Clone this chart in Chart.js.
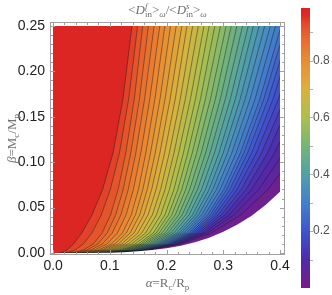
<!DOCTYPE html>
<html><head><meta charset="utf-8">
<script src="https://cdn.jsdelivr.net/npm/chart.js@4.4.1/dist/chart.umd.min.js"></script>
<style>html,body{margin:0;padding:0;background:#fff;}canvas{display:block;}</style>
</head><body>
<canvas id="c" width="332" height="295"></canvas>
<script>
// ---- data ----
const contourLevels = [0.95,0.925,0.9,0.875,0.85,0.825,0.8,0.775,0.75,0.725,0.7,0.675,0.65,0.625,0.6,0.575,0.55,0.525,0.5,0.475,0.45,0.425,0.4,0.375,0.35,0.325,0.3,0.275,0.25,0.225,0.2,0.175,0.15,0.125,0.1,0.075,0.05];
const betaRows = [0.25, 0.17, 0.11, 0.07, 0.042, 0.022, 0.01, 0.0035, 0.001];
// alpha position of each contour (same order as contourLevels) along each beta row
const alphaAtBeta025 = [0.139,0.149,0.158,0.168,0.178,0.188,0.197,0.207,0.217,0.227,0.236,0.246,0.256,0.266,0.275,0.285,0.295,0.305,0.314,0.324,0.334,0.344,0.353,0.363,0.373,0.383,0.392,0.402,0.410,0.419,0.428,0.439,0.451,0.466,0.483,0.504,0.533];
const alphaAtBeta017 = [0.1233,0.1333,0.1432,0.1523,0.1614,0.1706,0.1796,0.1886,0.1975,0.2064,0.2154,0.2243,0.2332,0.2422,0.2511,0.2599,0.2687,0.2775,0.2862,0.2950,0.3038,0.3126,0.3214,0.3300,0.3388,0.3475,0.3562,0.3648,0.3716,0.3793,0.3879,0.3975,0.4083,0.4208,0.4358,0.4545,0.4801];
const alphaAtBeta011 = [0.1056,0.1169,0.1281,0.1369,0.1458,0.1546,0.1634,0.1717,0.1800,0.1882,0.1965,0.2048,0.2130,0.2213,0.2296,0.2374,0.2452,0.2530,0.2609,0.2687,0.2765,0.2843,0.2922,0.2997,0.3073,0.3149,0.3224,0.3300,0.3360,0.3426,0.3499,0.3581,0.3673,0.3778,0.3904,0.4060,0.4272];
const alphaAtBeta007 = [0.0873,0.1009,0.1146,0.1235,0.1325,0.1415,0.1504,0.1582,0.1660,0.1738,0.1817,0.1895,0.1973,0.2051,0.2129,0.2199,0.2268,0.2338,0.2407,0.2477,0.2546,0.2616,0.2685,0.2750,0.2814,0.2879,0.2943,0.3008,0.3060,0.3115,0.3176,0.3242,0.3317,0.3401,0.3501,0.3624,0.3788];
const alphaAtBeta0042 = [0.0686,0.0849,0.1013,0.1104,0.1195,0.1287,0.1378,0.1452,0.1526,0.1600,0.1674,0.1749,0.1822,0.1897,0.1971,0.2032,0.2092,0.2153,0.2214,0.2275,0.2336,0.2396,0.2457,0.2510,0.2564,0.2617,0.2670,0.2723,0.2768,0.2813,0.2860,0.2911,0.2967,0.3030,0.3104,0.3192,0.3307];
const alphaAtBeta0022 = [0.0505,0.0684,0.0864,0.0954,0.1043,0.1133,0.1222,0.1290,0.1358,0.1426,0.1494,0.1562,0.1630,0.1698,0.1766,0.1817,0.1869,0.1920,0.1972,0.2023,0.2074,0.2125,0.2177,0.2219,0.2260,0.2302,0.2344,0.2386,0.2423,0.2456,0.2491,0.2528,0.2567,0.2610,0.2658,0.2714,0.2784];
const alphaAtBeta001 = [0.0360,0.0534,0.0708,0.0789,0.0870,0.0951,0.1031,0.1090,0.1149,0.1208,0.1267,0.1325,0.1384,0.1443,0.1502,0.1544,0.1585,0.1627,0.1668,0.1710,0.1752,0.1794,0.1835,0.1867,0.1899,0.1931,0.1963,0.1995,0.2025,0.2049,0.2073,0.2098,0.2125,0.2153,0.2183,0.2216,0.2255];
const alphaAtBeta00035 = [0.0248,0.0393,0.0538,0.0603,0.0668,0.0733,0.0798,0.0845,0.0891,0.0937,0.0983,0.1029,0.1075,0.1122,0.1168,0.1199,0.1231,0.1262,0.1294,0.1325,0.1357,0.1388,0.1420,0.1443,0.1466,0.1489,0.1512,0.1535,0.1558,0.1574,0.1591,0.1608,0.1625,0.1643,0.1661,0.1681,0.1701];
const alphaAtBeta0001 = [0.0170,0.0277,0.0385,0.0432,0.0480,0.0527,0.0575,0.0609,0.0642,0.0676,0.0709,0.0743,0.0776,0.0809,0.0843,0.0865,0.0888,0.0910,0.0933,0.0955,0.0978,0.1000,0.1023,0.1039,0.1055,0.1071,0.1087,0.1103,0.1120,0.1131,0.1142,0.1154,0.1165,0.1177,0.1189,0.1201,0.1213];
const convergeAlpha = 0.01; // where all contours meet beta = 0
// lower-right excluded (white) region boundary
const cutoffAlpha = [0,0.05,0.1,0.125,0.15,0.175,0.2,0.225,0.25,0.275,0.3,0.325,0.35,0.375,0.4];
const cutoffBeta  = [0,0.00003,0.0004,0.0009,0.0018,0.0032,0.0052,0.008,0.0118,0.0168,0.0233,0.0313,0.0411,0.0531,0.0676];
const alphaRange = [0, 0.4];
const betaRange = [0, 0.25];
const xTickValues = [0, 0.1, 0.2, 0.3, 0.4];
const yTickValues = [0, 0.05, 0.1, 0.15, 0.2, 0.25];
const colorbarRange = [0, 0.985];
const colorbarTicks = [0.2, 0.4, 0.6, 0.8];

// ---- styling ----
const rainbowStops = [
  [0.00,[120,28,134]],[0.10,[80,42,172]],[0.20,[62,84,206]],[0.30,[68,128,203]],
  [0.40,[80,160,168]],[0.50,[118,181,118]],[0.60,[172,191,77]],[0.70,[218,177,62]],
  [0.80,[233,140,51]],[0.88,[231,105,46]],[0.93,[227,75,42]],[0.96,[221,40,36]],[1.00,[218,32,34]]
];
function colorAt(v){
  if (v<=rainbowStops[0][0]) return 'rgb('+rainbowStops[0][1].join(',')+')';
  for (let i=1;i<rainbowStops.length;i++){
    const [v1,c1]=rainbowStops[i], [v0,c0]=rainbowStops[i-1];
    if (v<=v1){ const t=(v-v0)/(v1-v0); return 'rgb('+c0.map((c,j)=>Math.round(c+(c1[j]-c)*t)).join(',')+')'; }
  }
  return 'rgb('+rainbowStops[rainbowStops.length-1][1].join(',')+')';
}

const rowArrays = [alphaAtBeta025,alphaAtBeta017,alphaAtBeta011,alphaAtBeta007,alphaAtBeta0042,alphaAtBeta0022,alphaAtBeta001,alphaAtBeta00035,alphaAtBeta0001];
const OUT_L=-0.05, OUT_R=0.45, OUT_T=0.3, OUT_B=-0.05;

const datasets = [];
// white excluded region (top-most)
const maskPts = cutoffAlpha.map((a,i)=>({x:a,y:cutoffBeta[i]}));
maskPts.push({x:OUT_R,y:cutoffBeta[cutoffBeta.length-1]},{x:OUT_R,y:OUT_B},{x:0,y:OUT_B});
datasets.push({data:maskPts, showLine:true, fill:'shape', backgroundColor:'#ffffff', borderWidth:0, pointRadius:0});
// region above/left of each contour
contourLevels.forEach((lev,k)=>{
  const upper = k===0 ? colorbarRange[1] : contourLevels[k-1];
  const pts = [{x:OUT_L,y:OUT_T},{x:rowArrays[0][k],y:OUT_T}];
  betaRows.forEach((b,j)=>pts.push({x:rowArrays[j][k],y:b}));
  pts.push({x:convergeAlpha,y:0},{x:convergeAlpha,y:OUT_B},{x:OUT_L,y:OUT_B});
  datasets.push({data:pts, showLine:true, fill:'shape', backgroundColor:colorAt((lev+upper)/2),
    borderColor:'rgba(25,25,25,0.62)', borderWidth:0.7, pointRadius:0, tension:0});
});
// lowest band: whole domain
datasets.push({data:[{x:OUT_L,y:OUT_B},{x:OUT_R,y:OUT_B},{x:OUT_R,y:OUT_T},{x:OUT_L,y:OUT_T}],
  showLine:true, fill:'shape', backgroundColor:colorAt(contourLevels[contourLevels.length-1]/2), borderWidth:0, pointRadius:0});

function richWidth(ctx, parts){
  let w=0;
  for(const p of parts){
    if(p.stack){ let m=0; for(const s of p.stack){ctx.font=s.font; m=Math.max(m,ctx.measureText(s.t).width);} w+=m; }
    else { ctx.font=p.font; w+=ctx.measureText(p.t).width; }
  }
  return w;
}
function drawRich(ctx, parts, x, y){
  let cx = x - richWidth(ctx,parts)/2;
  ctx.textBaseline='alphabetic'; ctx.textAlign='left';
  for(const p of parts){
    if(p.stack){ let m=0; for(const s of p.stack){ctx.font=s.font; ctx.fillText(s.t,cx,y+(s.dy||0)); m=Math.max(m,ctx.measureText(s.t).width);} cx+=m; }
    else { ctx.font=p.font; ctx.fillText(p.t,cx,y+(p.dy||0)); cx+=ctx.measureText(p.t).width; }
  }
}
const SERIF='"Liberation Serif","DejaVu Serif",serif';
const N=(t)=>({t,font:'13px '+SERIF});
const I=(t)=>({t,font:'italic 13px '+SERIF});
const SUB=(t,it)=>({t,font:(it?'italic ':'')+'9px '+SERIF,dy:3});
const SUP=(t,it)=>({t,font:(it?'italic ':'')+'9px '+SERIF,dy:-5});

const decorPlugin = {
  id:'decor',
  beforeDatasetsDraw(chart){
    const {ctx,scales:{x,y}}=chart;
    const l=x.getPixelForValue(alphaRange[0]), r=x.getPixelForValue(alphaRange[1]);
    const t=y.getPixelForValue(betaRange[1]), b=y.getPixelForValue(betaRange[0]);
    ctx.save(); ctx.beginPath(); ctx.rect(l,t,r-l,b-t); ctx.clip();
  },
  afterDatasetsDraw(chart){ chart.ctx.restore(); },
  afterDraw(chart){
    const {ctx,chartArea:ca,scales:{x,y}}=chart;
    ctx.save();
    // frame
    ctx.strokeStyle='#a0a0a0'; ctx.lineWidth=1;
    ctx.strokeRect(ca.left+0.5,ca.top+0.5,ca.right-ca.left-1,ca.bottom-ca.top-1);
    // inward ticks
    ctx.beginPath();
    for(let i=0;i<=20;i++){
      const v=i*0.02, px=Math.round(x.getPixelForValue(v))+0.5, L=(i%5===0)?5:3;
      ctx.moveTo(px,ca.bottom); ctx.lineTo(px,ca.bottom-L);
      ctx.moveTo(px,ca.top); ctx.lineTo(px,ca.top+L);
    }
    for(let i=0;i<=25;i++){
      const v=i*0.01, py=Math.round(y.getPixelForValue(v))+0.5, L=(i%5===0)?5:3;
      ctx.moveTo(ca.left,py); ctx.lineTo(ca.left+L,py);
      ctx.moveTo(ca.right,py); ctx.lineTo(ca.right-L,py);
    }
    ctx.stroke();
    // titles
    ctx.fillStyle='#707070';
    drawRich(ctx,[N('<'),I('D'),{stack:[SUP('f',true),SUB('in')]},N('>'),SUB('ω',true),N('/<'),I('D'),{stack:[SUP('s',true),SUB('in')]},N('>'),SUB('ω',true)],
      (ca.left+ca.right)/2, 14);
    drawRich(ctx,[I('α'),N('=R'),SUB('c'),N('/R'),SUB('p')],(ca.left+ca.right)/2, 287);
    ctx.save(); ctx.translate(16,(ca.top+ca.bottom)/2); ctx.rotate(-Math.PI/2);
    drawRich(ctx,[I('β'),N('=M'),SUB('c'),N('/M'),SUB('p')],0,0);
    ctx.restore();
    // colorbar
    const bx=301, bw=9, bTop=8, bBot=288;
    const vy=v=>bBot-(v-colorbarRange[0])/(colorbarRange[1]-colorbarRange[0])*(bBot-bTop);
    const g=ctx.createLinearGradient(0,bBot,0,bTop);
    rainbowStops.forEach(([v,c])=>{ if(v<=colorbarRange[1]) g.addColorStop((v-colorbarRange[0])/(colorbarRange[1]-colorbarRange[0]),'rgb('+c.join(',')+')'); });
    g.addColorStop(1,colorAt(colorbarRange[1]));
    ctx.fillStyle=g; ctx.fillRect(bx,bTop,bw,bBot-bTop);
    ctx.strokeStyle='#b0b0b0'; ctx.lineWidth=1; ctx.beginPath();
    for(let i=1;i<=9;i++){ const py=Math.round(vy(i*0.1))+0.5; ctx.moveTo(bx+bw,py); ctx.lineTo(bx+bw+3,py); }
    ctx.stroke();
    ctx.fillStyle='#505050'; ctx.font='12px "Liberation Sans",Arial,sans-serif'; ctx.textAlign='left'; ctx.textBaseline='middle';
    colorbarTicks.forEach(v=>ctx.fillText(v.toFixed(1),bx+bw+3,vy(v)));
    ctx.restore();
  }
};

const TICKFONT={family:'"Liberation Sans",Arial,sans-serif',size:14};
new Chart(document.getElementById('c'),{
  type:'scatter',
  data:{datasets},
  options:{
    responsive:false, animation:false, events:[],
    layout:{padding:{left:0,right:47,top:22,bottom:0}},
    plugins:{legend:{display:false},tooltip:{enabled:false}},
    elements:{point:{radius:0},line:{tension:0}},
    scales:{
      x:{type:'linear',min:-0.0055,max:0.4088,
         afterBuildTicks:s=>{s.ticks=xTickValues.map(v=>({value:v}));},
         afterFit:s=>{s.height=40;},
         grid:{display:false,drawTicks:false},border:{display:false},
         ticks:{padding:3,font:TICKFONT,color:'#222',autoSkip:false,maxRotation:0,minRotation:0,callback:v=>Number(v).toFixed(1)}},
      y:{type:'linear',min:-0.0022,max:0.2544,
         afterBuildTicks:s=>{s.ticks=yTickValues.map(v=>({value:v}));},
         afterFit:s=>{s.width=50;},
         grid:{display:false,drawTicks:false},border:{display:false},
         ticks:{padding:5,font:TICKFONT,color:'#222',autoSkip:false,callback:v=>Number(v).toFixed(2)}}
    }
  },
  plugins:[decorPlugin]
});
</script>
</body></html>
